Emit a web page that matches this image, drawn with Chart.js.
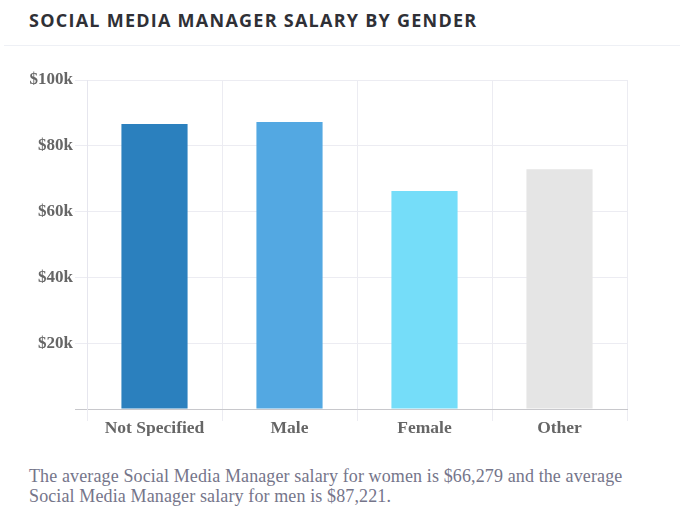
<!DOCTYPE html>
<html>
<head>
<meta charset="utf-8">
<script src="https://cdn.jsdelivr.net/npm/chart.js@4/dist/chart.umd.min.js"></script>
<style>
  html, body { margin:0; padding:0; background:#fff; width:687px; height:532px; overflow:hidden; }
  #title { position:absolute; left:29px; top:8px; font-family:"Open Sans", sans-serif; font-weight:700; font-size:18px; letter-spacing:1.25px; color:#2f3036; white-space:nowrap; }
  #sep { position:absolute; left:4px; top:45px; width:676px; height:1px; background:#eef0f5; }
  #wrap { position:absolute; left:0; top:60px; width:660px; height:376px; }
  #note { position:absolute; left:29px; top:466px; width:660px; font-family:"Liberation Serif", serif; font-size:18px; letter-spacing:0.12px; line-height:20px; color:#75758a; white-space:nowrap; }
</style>
</head>
<body>
<div id="title">SOCIAL MEDIA MANAGER SALARY BY GENDER</div>
<div id="sep"></div>
<div id="wrap"><canvas id="c"></canvas></div>
<div id="note">The average Social Media Manager salary for women is $66,279 and the average<br>Social Media Manager salary for men is $87,221.</div>
<script>
const categories = ["Not Specified", "Male", "Female", "Other"];
const salaries = [86600, 87221, 66279, 72900];
const barColors = ["#2b80be", "#53a8e2", "#75ddf9", "#e5e5e5"];
const yTickLabels = {20000: "$20k", 40000: "$40k", 60000: "$60k", 80000: "$80k", 100000: "$100k"};

new Chart(document.getElementById("c"), {
  type: "bar",
  data: {
    labels: categories,
    datasets: [{
      data: salaries,
      backgroundColor: barColors,
      borderWidth: 0,
      categoryPercentage: 1,
      barPercentage: 0.49
    }]
  },
  options: {
    responsive: true,
    maintainAspectRatio: false,
    animation: false,
    layout: { padding: { top: 20, right: 33, left: 0, bottom: 0 } },
    plugins: { legend: { display: false }, tooltip: { enabled: false } },
    scales: {
      x: {
        grid: { color: "#ececf2", tickLength: 12, offset: true },
        border: { color: "#c8c8cc", width: 1 },
        ticks: { color: "#666", padding: -3, font: { family: "Liberation Serif", weight: "bold", size: 17.5 } }
      },
      y: {
        min: 0, max: 100000,
        afterFit: (s) => { s.width = 87; },
        grid: { color: (ctx) => ctx.tick && ctx.tick.value === 0 ? "#c8c8cc" : "#ececf2", tickLength: 12 },
        border: { color: "#e6e6ee" },
        ticks: {
          stepSize: 20000, color: "#666", padding: 2,
          font: { family: "Liberation Serif", weight: "bold", size: 17 },
          callback: (v) => yTickLabels[v] || ""
        }
      }
    }
  }
});
</script>
</body>
</html>
